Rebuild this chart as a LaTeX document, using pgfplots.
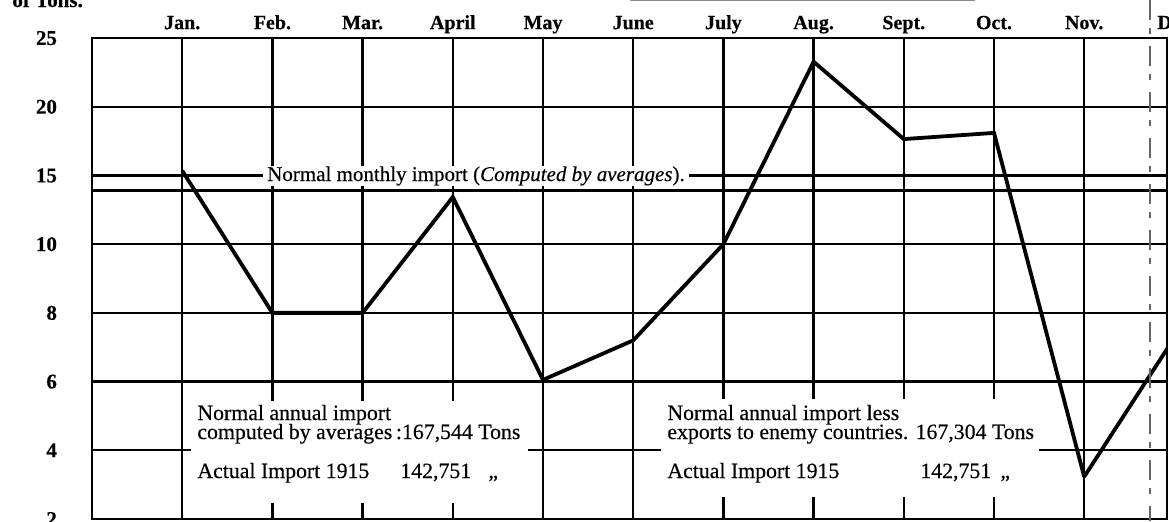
\documentclass[border=0pt]{standalone}
\usepackage{fontspec}
\setmainfont{Liberation Serif}[FakeBold=0.35]
\usepackage{pgfplots}
\pgfplotsset{compat=1.18}
\begin{document}
\begin{tikzpicture}
\clip (0,0) rectangle (584.5pt,260.5pt);
\begin{axis}[
  at={(46pt,1pt)}, anchor=south west,
  x=45.1pt, y=34.35pt,
  xmin=0, xmax=11.92, ymin=2, ymax=25,
  % the y scale is stepped: 2 per division up to 10, then 5 per division
  y coord trafo/.code={\pgfmathparse{(#1<=10)*((#1-2)/2)+(#1>10)*(4+(#1-10)/5)}},
  xtick={1,...,11},
  xticklabels={Jan.,Feb.,Mar.,April,May,June,July,Aug.,Sept.,Oct.,Nov.},
  xticklabel pos=upper,
  ytick={2,4,6,8,10,15,20,25},
  yticklabels={2,4,6,8,10,15,20,25},
  grid=major,
  major grid style={black, line width=1.15pt},
  major tick length=0pt,
  axis line style={black, line width=1.2pt},
  xticklabel style={font=\bfseries\fontsize{10}{12}\selectfont, anchor=base, yshift=4.5pt},
  yticklabel style={font=\bfseries\fontsize{10.5}{12}\selectfont, anchor=east, xshift=-14pt},
]
\addplot[black, line width=1.8pt] coordinates {(0,13.9) (12,13.9)};
\addplot[black, line width=1.9pt, miter limit=2] coordinates {
  (1,15.35) (2,8.0) (3,8.0) (4,13.43) (5,6.05) (6,7.2)
  (7,10.0) (8,23.28) (9,17.65) (10,18.1) (11,3.23) (12,7.28)};
\end{axis}
\begin{scope}[x=0.5pt, y=-0.5pt, yshift=260.5pt]
  \fill[white] (191,401) rectangle (528,503);
  \fill[white] (661,399) rectangle (1039,497);
  \node[fill=white, inner xsep=2pt, inner ysep=0pt, anchor=base, font=\fontsize{10.5}{12}\selectfont]
    at (476,181) {Normal monthly import (\textit{Computed by averages}).};
  \begin{scope}[every node/.style={anchor=base west, inner sep=0pt, font=\fontsize{10.9}{12}\selectfont}]
    \node at (197,420) {Normal annual import};
    \node at (197,439) {computed by averages\,:167,544 Tons};
    \node at (197,478) {Actual Import 1915};
    \node at (400,478) {142,751};
    \node at (488,478) {„};
    \node at (667,420) {Normal annual import less};
    \node at (667,439) {exports to enemy countries. 167,304 Tons};
    \node at (667,478) {Actual Import 1915};
    \node at (920,478) {142,751};
    \node at (1000,478) {„};
  \end{scope}
  \node[anchor=base west, inner sep=0pt, font=\bfseries\fontsize{10.5}{12}\selectfont] at (12,7) {of Tons.};
  \node[anchor=base, inner sep=0pt, font=\bfseries\fontsize{10}{12}\selectfont] at (1176,29) {Dec.};
  \draw[black!45, line width=0.5pt] (630,1) -- (975,1);
  \draw[black!60, line width=1.4pt, dash pattern=on 10pt off 4pt on 3pt off 6pt] (1150,0) -- (1150,521);
\end{scope}
\end{tikzpicture}
\end{document}
